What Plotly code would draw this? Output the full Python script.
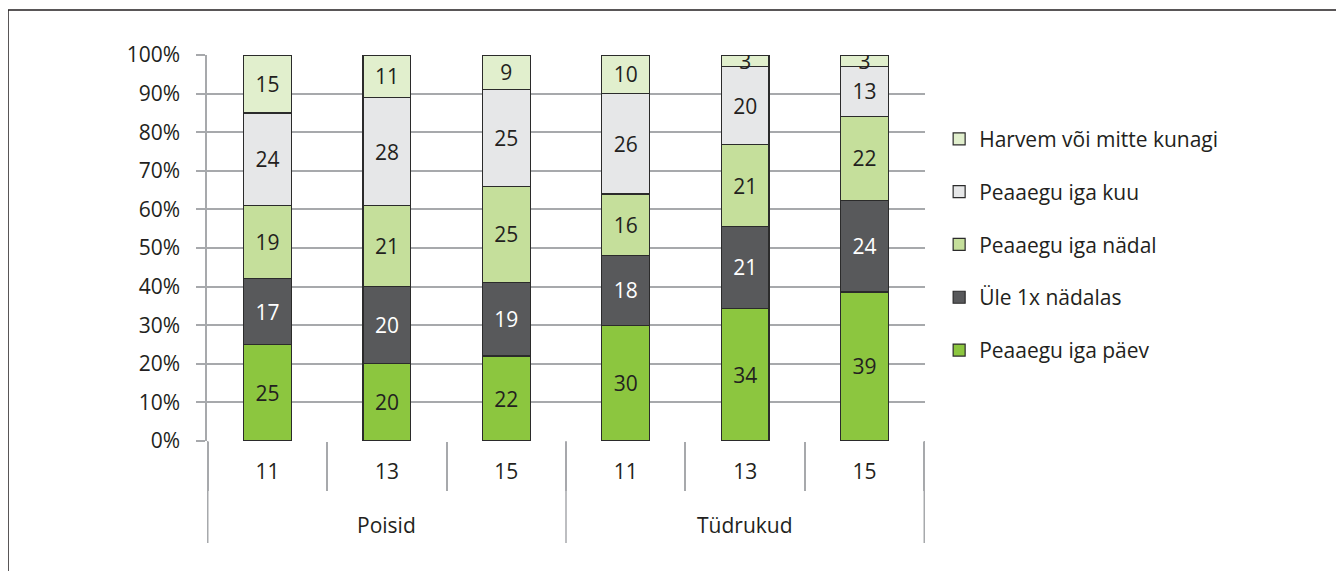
import plotly.graph_objects as go

groups = ["Poisid", "Poisid", "Poisid", "Tüdrukud", "Tüdrukud", "Tüdrukud"]
ages = ["11", "13", "15", "11", "13", "15"]

series_names = ["Peaaegu iga päev", "Üle 1x nädalas", "Peaaegu iga nädal",
                "Peaaegu iga kuu", "Harvem või mitte kunagi"]
peaaegu_iga_paev = [25, 20, 22, 30, 34, 39]
ule_1x_nadalas = [17, 20, 19, 18, 21, 24]
peaaegu_iga_nadal = [19, 21, 25, 16, 21, 22]
peaaegu_iga_kuu = [24, 28, 25, 26, 20, 13]
harvem = [15, 11, 9, 10, 3, 3]

values = [peaaegu_iga_paev, ule_1x_nadalas, peaaegu_iga_nadal, peaaegu_iga_kuu, harvem]
colors = ["#8CC63F", "#58595B", "#C5DF9B", "#E6E7E8", "#E1EFCD"]
text_colors = ["#231F20", "#FFFFFF", "#231F20", "#231F20", "#231F20"]

FONT = "Open Sans"
FS = 21
TXT = "#231F20"
GRID = "#A7A9AC"

# page has an 8px body margin; figure sized to fill the rest of the window
W, H = 1336, 563
L, R, T, B = 199, 419, 47, 130
pw = W - L - R
ph = H - T - B

# unique category keys (group + age), shown with age tick labels
x_keys = [f"{g} {a}" for g, a in zip(groups, ages)]

fig = go.Figure()
for i, (name, vals) in enumerate(zip(series_names, values)):
    fig.add_trace(go.Bar(
        x=x_keys, y=vals, name=name,
        marker=dict(color=colors[i], line=dict(color="#2B2B2B", width=1.2)),
        text=[str(v) for v in vals], textposition="inside",
        insidetextanchor="middle", textangle=0, constraintext="none",
        textfont=dict(family=FONT, size=FS, color=text_colors[i]),
        legendgroup=f"g{i}", legendrank=10 - i, width=0.4,
    ))

# group labels and long group dividers of the category axis
unique_groups = list(dict.fromkeys(groups))
for g in unique_groups:
    idx = [k for k, gg in enumerate(groups) if gg == g]
    center = (idx[0] + idx[-1]) / 2
    fig.add_annotation(x=center, xref="x", y=-(525 - 441) / ph, yref="paper",
                       text=g, showarrow=False, yanchor="middle",
                       font=dict(family=FONT, size=FS, color=TXT))
boundaries = [-0.5] + [k + 0.5 for k in range(len(groups) - 1) if groups[k] != groups[k + 1]] + [len(groups) - 0.5]
for b in boundaries:
    fig.add_shape(type="line", xref="x", yref="paper", x0=b, x1=b,
                  y0=0, y1=-(543 - 441) / ph,
                  line=dict(color=GRID, width=1.5))

# outer frame
fig.add_shape(type="rect", xref="paper", yref="paper",
              x0=(0 - L) / pw, x1=(W + 20 - L) / pw,
              y0=(H - B - (H + 20)) / ph, y1=(H - B - 2) / ph,
              line=dict(color="#231F20", width=1.5), fillcolor="rgba(0,0,0,0)",
              layer="below")

fig.update_layout(
    width=W, height=H,
    margin=dict(l=L, r=R, t=T, b=B),
    paper_bgcolor="white", plot_bgcolor="white",
    barmode="stack", barnorm="percent",
    font=dict(family=FONT, size=FS, color=TXT),
    uniformtext=dict(minsize=FS, mode="show"),
    legend=dict(x=1.0197, y=0.835, xanchor="left", yanchor="top",
                traceorder="grouped", tracegroupgap=22.5,
                font=dict(family=FONT, size=FS, color=TXT)),
    xaxis=dict(type="category", categoryorder="array", categoryarray=x_keys,
               tickvals=x_keys, ticktext=ages,
               showline=False, showgrid=False,
               ticks="outside", tickson="boundaries", ticklen=49,
               tickcolor=GRID, tickwidth=1.5, ticklabelstandoff=16,
               tickfont=dict(family=FONT, size=FS, color=TXT)),
    yaxis=dict(range=[0, 100], dtick=10, ticksuffix="%",
               showgrid=True, gridcolor=GRID, gridwidth=1.5,
               ticks="outside", ticklen=9, tickcolor=GRID, tickwidth=1.5,
               ticklabelstandoff=12,
               showline=True, linecolor=GRID, linewidth=1.5,
               zeroline=False,
               tickfont=dict(family=FONT, size=FS, color=TXT)),
)

fig.write_html("out.html")
